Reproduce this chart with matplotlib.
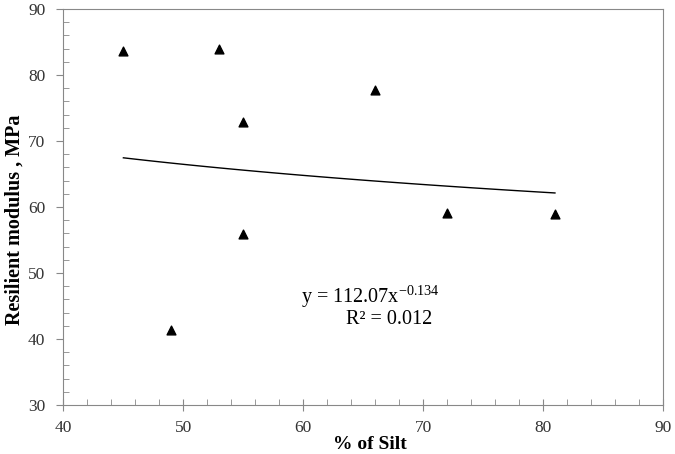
import matplotlib
matplotlib.use('Agg')
import matplotlib.pyplot as plt
import numpy as np
from matplotlib.ticker import MultipleLocator

matplotlib.rc('font', family='Liberation Serif', size=12)
matplotlib.rc('mathtext', fontset='custom', rm='Liberation Serif')

silt = [45, 49, 53, 55, 55, 66, 72, 81]
modulus = [83.6, 41.4, 83.9, 72.9, 55.9, 77.7, 59.1, 58.9]

# power trendline fitted in log space
b, loga = np.polyfit(np.log(silt), np.log(modulus), 1)
xt = np.linspace(min(silt), max(silt), 100)
yt = np.exp(loga) * xt ** b

fig = plt.figure(figsize=(6.75, 4.54), dpi=100)
ax = fig.add_axes([0.094, 0.108, 0.888, 0.872])

ax.plot(xt, yt, color='black', lw=1)
ax.scatter(silt, modulus, marker='^', s=40, color='black', zorder=3)

ax.set_xlim(40, 90)
ax.set_ylim(30, 90)
ax.xaxis.set_major_locator(MultipleLocator(10))
ax.xaxis.set_minor_locator(MultipleLocator(2))
ax.yaxis.set_major_locator(MultipleLocator(10))
ax.yaxis.set_minor_locator(MultipleLocator(2))
ax.tick_params(axis='x', which='major', direction='inout', length=8, color='#888888',
               labelsize=12.5, labelcolor='#333333', pad=7)
ax.tick_params(axis='x', which='minor', direction='in', length=4, color='#888888')
ax.tick_params(axis='y', which='major', direction='out', length=5, color='#888888',
               labelsize=12.5, labelcolor='#333333', pad=8)
ax.tick_params(axis='y', which='minor', direction='in', length=4, color='#888888')
for s in ax.spines.values():
    s.set_color('#888888')

ax.set_xlabel('% of Silt', fontweight='bold', fontsize=14)
ax.xaxis.set_label_coords(0.511, -0.078)
ax.set_ylabel('Resilient modulus , MPa', fontweight='bold', fontsize=14.5)
ax.yaxis.set_label_coords(-0.064, 0.467)

ax.text(65.6, 46.5, r'y = 112.07x$^{\mathrm{-0.134}}$', ha='center', va='center', fontsize=14.5)
ax.text(67.2, 42.9, 'R² = 0.012', ha='center', va='center', fontsize=14.5)

plt.savefig('out.png', dpi=100)
